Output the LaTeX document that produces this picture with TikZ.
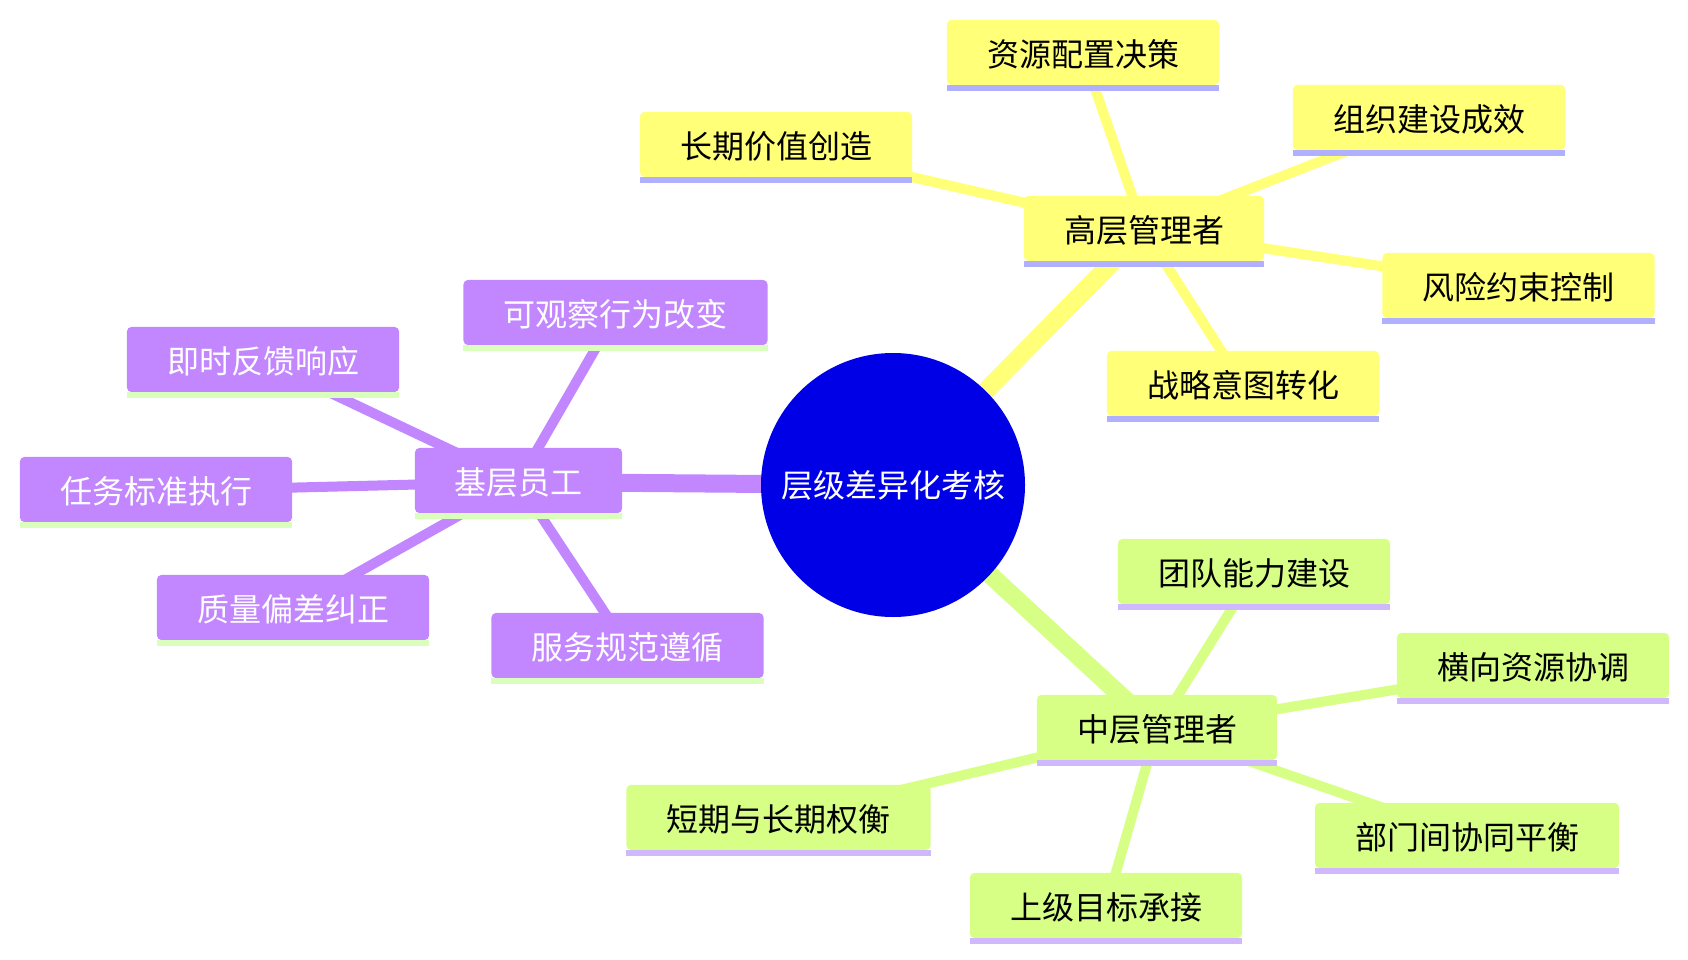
\documentclass[tikz,border=0pt]{standalone}
\usepackage{fontspec}
\newfontfamily\cjk{Noto Sans CJK SC}
\definecolor{ylw}{HTML}{FFFF78}
\definecolor{ylwul}{HTML}{B0B0FF}
\definecolor{grn}{HTML}{D7FF86}
\definecolor{grnul}{HTML}{D0B8FF}
\definecolor{ppl}{HTML}{C286FF}
\definecolor{pplul}{HTML}{DAFFBC}
\definecolor{ctr}{HTML}{0000E6}
\pgfdeclarelayer{bg}
\pgfdeclarelayer{fills}
\pgfsetlayers{bg,fills,main}
% name, x, y, width, section letter, text
\newcommand\mmnode[6]{%
  \node[box#5, minimum width=#4pt, yshift=-1.5pt] (#1) at (#2,#3) {#6};
  \begin{pgfonlayer}{fills}
  \fill[fill#5, rounded corners=5pt] ([yshift=1.5pt]#1.south west) rectangle ([yshift=1.5pt]#1.north east);
  \fill[ul#5] ([yshift=1.5pt]#1.south west) rectangle ([yshift=-4.5pt]#1.south east);
  \end{pgfonlayer}
}
\begin{document}
\begin{tikzpicture}[x=1pt,y=-1pt,
  box/.style={minimum height=65pt, inner sep=0pt, font=\cjk\fontsize{32}{32}\selectfont},
  boxy/.style={box, text=black},
  boxg/.style={box, text=black},
  boxp/.style={box, text=white},
  filly/.style={fill=ylw},
  fillg/.style={fill=grn},
  fillp/.style={fill=ppl},
  uly/.style={fill=ylwul},
  ulg/.style={fill=grnul},
  ulp/.style={fill=pplul},
  ezero/.style={line width=18pt},
  eone/.style={line width=10pt},
]
\useasboundingbox (0,0) rectangle (1688,960);
% centre
\node[circle, fill=ctr, minimum size=264pt, inner sep=0pt, text=white, font=\cjk\fontsize{32}{32}\selectfont] (c) at (893,485) {层级差异化考核};
% top section (yellow)
\mmnode{hi}{1144}{228.5}{240}{y}{高层管理者}
\mmnode{h1}{1083}{52.5}{272}{y}{资源配置决策}
\mmnode{h2}{1429}{117.5}{272}{y}{组织建设成效}
\mmnode{h3}{776}{144.5}{272}{y}{长期价值创造}
\mmnode{h4}{1518.5}{285.5}{272}{y}{风险约束控制}
\mmnode{h5}{1243}{383.5}{272}{y}{战略意图转化}
% left section (purple)
\mmnode{lo}{518.5}{480.5}{207}{p}{基层员工}
\mmnode{l1}{615.5}{312.5}{304}{p}{可观察行为改变}
\mmnode{l2}{263}{359.5}{272}{p}{即时反馈响应}
\mmnode{l3}{156}{489.5}{272}{p}{任务标准执行}
\mmnode{l4}{293}{607.5}{272}{p}{质量偏差纠正}
\mmnode{l5}{627.5}{645.5}{272}{p}{服务规范遵循}
% bottom section (green)
\mmnode{mi}{1157}{727.5}{240}{g}{中层管理者}
\mmnode{m1}{1254}{571.5}{272}{g}{团队能力建设}
\mmnode{m2}{1533}{665.5}{272}{g}{横向资源协调}
\mmnode{m3}{778.5}{817.5}{304}{g}{短期与长期权衡}
\mmnode{m4}{1467}{835.5}{304}{g}{部门间协同平衡}
\mmnode{m5}{1106}{905.5}{272}{g}{上级目标承接}
\begin{pgfonlayer}{bg}
\draw[ezero, ylw] (c.center) -- (hi.center);
\draw[ezero, ppl] (c.center) -- (lo.center);
\draw[ezero, grn] (c.center) -- (mi.center);
\foreach \n in {h1,h2,h3,h4,h5} \draw[eone, ylw] (hi.center) -- (\n.center);
\foreach \n in {l1,l2,l3,l4,l5} \draw[eone, ppl] (lo.center) -- (\n.center);
\foreach \n in {m1,m2,m3,m4,m5} \draw[eone, grn] (mi.center) -- (\n.center);
\end{pgfonlayer}
\end{tikzpicture}
\end{document}
